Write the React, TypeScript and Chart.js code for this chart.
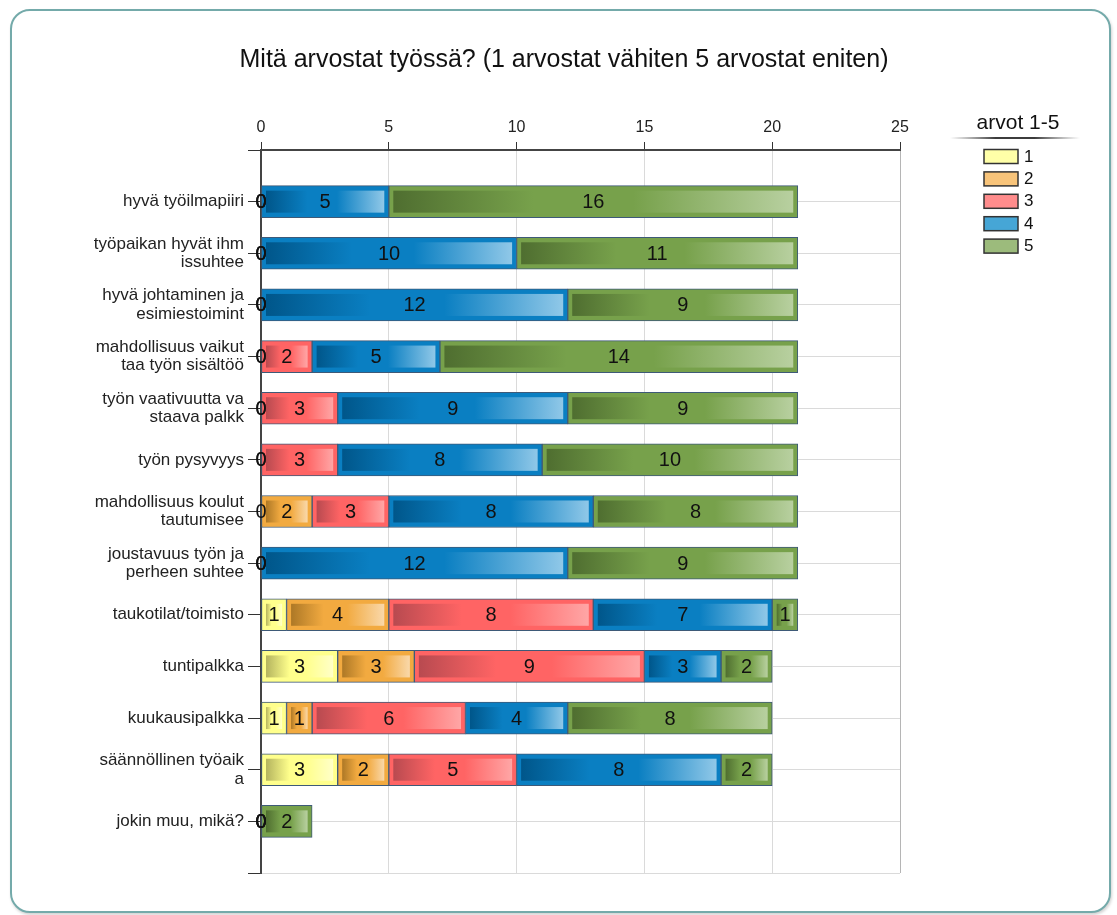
import React, { useEffect, useRef } from 'react';
import { Chart, registerables } from 'chart.js';

Chart.register(...registerables);

const TITLE = 'Mitä arvostat työssä? (1 arvostat vähiten 5 arvostat eniten)';
const LEGEND_TITLE = 'arvot 1-5';

const categories: (string | string[])[] = [
  'hyvä työilmapiiri',
  ['työpaikan hyvät ihm', 'issuhtee'],
  ['hyvä johtaminen ja', 'esimiestoimint'],
  ['mahdollisuus vaikut', 'taa työn sisältöö'],
  ['työn vaativuutta va', 'staava palkk'],
  'työn pysyvyys',
  ['mahdollisuus koulut', 'tautumisee'],
  ['joustavuus työn ja', 'perheen suhtee'],
  'taukotilat/toimisto',
  'tuntipalkka',
  'kuukausipalkka',
  ['säännöllinen työaik', 'a'],
  'jokin muu, mikä?',
];

const seriesLabels = ['1', '2', '3', '4', '5'];
const values1 = [0, 0, 0, 0, 0, 0, 0, 0, 1, 3, 1, 3, 0];
const values2 = [0, 0, 0, 0, 0, 0, 2, 0, 4, 3, 1, 2, 0];
const values3 = [0, 0, 0, 2, 3, 3, 3, 0, 8, 9, 6, 5, 0];
const values4 = [5, 10, 12, 5, 9, 8, 8, 12, 7, 3, 4, 8, 0];
const values5 = [16, 11, 9, 14, 9, 10, 8, 9, 1, 2, 8, 2, 2];
const xTicks = [0, 5, 10, 15, 20, 25];

const baseColors = ['#ffff8c', '#f2aa40', '#ff6464', '#0a7fc2', '#77a14b'];
const darkColors = ['#b4b45e', '#ad7826', '#b84a50', '#00568a', '#4f6e30'];
const lightColors = ['#ffffc8', '#f9d8aa', '#ffa6a6', '#90c8e8', '#b8d0a0'];
const legendColors = ['#ffffa8', '#f8c47a', '#ff8c8c', '#46a6d6', '#9cbb7c'];

const FONT = '"Liberation Sans", Arial, sans-serif';

const titlePlugin = {
  id: 'customTitle',
  afterDraw(chart: any) {
    const ctx = chart.ctx;
    ctx.save();
    ctx.font = `25px ${FONT}`;
    ctx.fillStyle = '#111';
    ctx.textAlign = 'center';
    ctx.textBaseline = 'alphabetic';
    ctx.fillText(TITLE, 564, 67);
    ctx.restore();
  },
};

const legendPlugin = {
  id: 'customLegend',
  afterDraw(chart: any) {
    const ctx = chart.ctx;
    const cx = 1018;
    ctx.save();
    ctx.font = `21px ${FONT}`;
    ctx.fillStyle = '#111';
    ctx.textAlign = 'center';
    ctx.textBaseline = 'alphabetic';
    ctx.fillText(LEGEND_TITLE, cx, 129);
    const g = ctx.createLinearGradient(950, 0, 1080, 0);
    g.addColorStop(0, 'rgba(90,90,90,0)');
    g.addColorStop(0.35, 'rgba(60,60,60,1)');
    g.addColorStop(0.65, 'rgba(60,60,60,1)');
    g.addColorStop(1, 'rgba(90,90,90,0)');
    ctx.fillStyle = g;
    ctx.fillRect(950, 137, 130, 2);
    chart.data.datasets.forEach((ds: any, i: number) => {
      const top = 149.5 + i * 22.4;
      ctx.fillStyle = legendColors[i];
      ctx.fillRect(984, top, 34, 14);
      ctx.strokeStyle = '#333';
      ctx.lineWidth = 1.5;
      ctx.strokeRect(984, top, 34, 14);
      ctx.fillStyle = '#111';
      ctx.font = `17px ${FONT}`;
      ctx.textAlign = 'left';
      ctx.textBaseline = 'middle';
      ctx.fillText(ds.label, 1024, top + 7.5);
    });
    ctx.restore();
  },
};

const barDecorPlugin = {
  id: 'barDecor',
  afterDatasetsDraw(chart: any) {
    const ctx = chart.ctx;
    ctx.save();
    const items: { cx: number; cy: number; v: number }[] = [];
    chart.data.datasets.forEach((ds: any, di: number) => {
      const meta = chart.getDatasetMeta(di);
      meta.data.forEach((el: any, i: number) => {
        const v = ds.data[i];
        if (v == null) return;
        const { x, y, base, height } = el.getProps(['x', 'y', 'base', 'height'], true);
        const left = Math.min(x, base);
        const right = Math.max(x, base);
        const ix = left + 4.5;
        const iw = right - left - 9;
        const iy = y - height / 2 + 5;
        const ih = height - 10;
        if (iw > 1) {
          const g = ctx.createLinearGradient(ix, 0, ix + iw, 0);
          g.addColorStop(0, darkColors[di]);
          g.addColorStop(0.35, baseColors[di]);
          g.addColorStop(0.6, baseColors[di]);
          g.addColorStop(1, lightColors[di]);
          ctx.fillStyle = g;
          ctx.fillRect(ix, iy, iw, ih);
        }
        items.push({ cx: (left + right) / 2, cy: y, v });
      });
    });
    ctx.font = `20px ${FONT}`;
    ctx.fillStyle = '#111';
    ctx.textAlign = 'center';
    ctx.textBaseline = 'middle';
    items.forEach((it) => ctx.fillText(String(it.v), it.cx, it.cy + 1));
    ctx.restore();
  },
};

const pad = (arr: number[]) => [null, ...arr, null];

export default function App() {
  const canvasRef = useRef<HTMLCanvasElement | null>(null);

  useEffect(() => {
    if (!canvasRef.current) return;
    const seriesValues = [values1, values2, values3, values4, values5];
    const chart = new Chart(canvasRef.current, {
      type: 'bar',
      data: {
        labels: ['', ...categories, ''] as any,
        datasets: seriesLabels.map((lab, i) => ({
          label: lab,
          data: pad(seriesValues[i]) as any,
          backgroundColor: baseColors[i],
          borderColor: '#3e5a78',
          borderWidth: 1,
          borderSkipped: false,
          barThickness: 32,
        })),
      },
      options: {
        indexAxis: 'y',
        responsive: false,
        animation: false,
        layout: { padding: { left: 0, top: 0, right: 217, bottom: 42 } },
        plugins: {
          legend: { display: false },
          title: { display: false },
          tooltip: { enabled: false },
        },
        scales: {
          x: {
            type: 'linear',
            position: 'top',
            min: 0,
            max: 25,
            stacked: true,
            afterFit: (s: any) => {
              s.height = 150;
            },
            afterBuildTicks: (s: any) => {
              s.ticks = xTicks.map((v) => ({ value: v }));
            },
            ticks: { font: { size: 16, family: FONT }, color: '#222', padding: 5 },
            grid: {
              color: (c: any) => (c.index === xTicks.length - 1 ? '#b5b5b5' : '#dadada'),
              tickColor: '#333',
              tickLength: 8,
              lineWidth: 1,
            },
            border: { color: '#444', width: 2 },
          },
          y: {
            type: 'category',
            stacked: true,
            offset: false,
            afterFit: (s: any) => {
              s.width = 261;
            },
            ticks: {
              autoSkip: false,
              font: { size: 17, lineHeight: 1.08, family: FONT },
              color: '#222',
              padding: 4,
            },
            grid: { color: '#dadada', tickColor: '#333', tickLength: 13, offset: false },
            border: { color: '#444', width: 2 },
          },
        },
      } as any,
      plugins: [barDecorPlugin, titlePlugin, legendPlugin],
    });
    return () => chart.destroy();
  }, []);

  return (
    <>
      <div
        style={{
          position: 'absolute',
          left: 10,
          top: 9,
          width: 1101,
          height: 904,
          boxSizing: 'border-box',
          border: '2px solid #74aaaa',
          borderRadius: 20,
          boxShadow: '1px 2px 3px rgba(0,0,0,0.18)',
          background: '#fff',
        }}
      />
      <canvas
        ref={canvasRef}
        width={1117}
        height={915}
        style={{ position: 'absolute', left: 0, top: 0, width: 1117, height: 915 }}
      />
    </>
  );
}
